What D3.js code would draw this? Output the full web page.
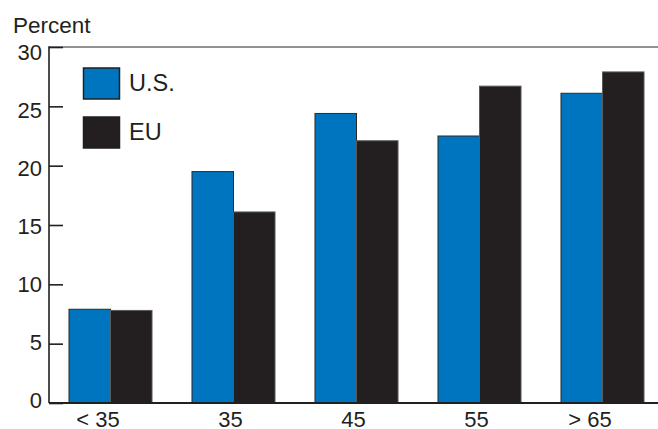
<!DOCTYPE html>
<html><head><meta charset="utf-8">
<script src="https://cdn.jsdelivr.net/npm/d3@7"></script>
<style>body{margin:0;background:#fff}svg{display:block}text{font-family:"Liberation Sans",Arial,Helvetica,sans-serif;fill:#231f20}</style>
</head><body><svg id="c" width="658" height="429"></svg>
<script>
const categories = ["< 35", "35", "45", "55", "> 65"];
const seriesNames = ["U.S.", "EU"];
const usValues = [7.9, 19.5, 24.4, 22.5, 26.1];
const euValues = [7.8, 16.1, 22.1, 26.7, 27.9];
const yTicks = [0, 5, 10, 15, 20, 25, 30];
const colors = ["#0075bf", "#231f20"];

const svg = d3.select("#c");
const mLeft = 49, mRight = 658, mTop = 47, mBottom = 403;

const x = d3.scaleBand().domain(categories).range([mLeft, 664]).paddingInner(0.325).paddingOuter(0.1625);
const xs = d3.scaleBand().domain(seriesNames).range([0, x.bandwidth()]);
const y = d3.scaleLinear().domain([0, 30]).range([mBottom, mTop]);
const yLab = d3.scaleLinear().domain([0, 30]).range([400.5, 52.5]);

// top line
svg.append("line").attr("x1", mLeft).attr("x2", mRight).attr("y1", y(30)).attr("y2", y(30))
  .attr("stroke", "#6d6e71").attr("stroke-width", 1.6);

// bars
const rows = categories.map((c, i) => ({c, vals: [usValues[i], euValues[i]]}));
const g = svg.append("g");
rows.forEach(r => {
  r.vals.forEach((v, j) => {
    g.append("rect")
      .attr("x", x(r.c) + xs(seriesNames[j]))
      .attr("y", y(v))
      .attr("width", xs.bandwidth())
      .attr("height", y(0) - y(v))
      .attr("fill", colors[j])
      .attr("stroke", j === 0 ? "#2b2b2b" : "#5a5a5a")
      .attr("stroke-width", 1);
  });
});

// y axis ticks (inward)
const yAxis = d3.axisRight(y).tickValues(yTicks).tickSize(14).tickFormat("");
const ya = svg.append("g").attr("transform", `translate(${mLeft},0)`).call(yAxis);
ya.select(".domain").remove();
ya.selectAll(".tick line").attr("stroke", "#231f20").attr("stroke-width", 1.6);
svg.append("line").attr("x1", mLeft).attr("x2", mLeft).attr("y1", y(30) - 0.8).attr("y2", y(0))
  .attr("stroke", "#231f20").attr("stroke-width", 1.6);

// y labels
svg.append("g").selectAll("text").data(yTicks).join("text")
  .attr("x", 42).attr("y", d => yLab(d)).attr("dy", "0.36em")
  .attr("text-anchor", "end").attr("font-size", 22).text(d => d);

// x axis line
svg.append("line").attr("x1", mLeft).attr("x2", mRight).attr("y1", y(0)).attr("y2", y(0))
  .attr("stroke", "#231f20").attr("stroke-width", 1.8);

// x labels: numeric part centered under group
const xl = svg.append("g").selectAll("text").data(categories).join("text")
  .attr("x", d => x(d) + x.bandwidth() / 2 - 3).attr("y", 426.5)
  .attr("text-anchor", "middle").attr("font-size", 22).text(d => d);
xl.each(function(d) {
  const full = this.getComputedTextLength();
  const num = d.replace(/^[<>]\s*/, "");
  const tmp = svg.append("text").attr("font-size", 22).text(num);
  const nw = tmp.node().getComputedTextLength();
  tmp.remove();
  d3.select(this).attr("dx", -(full - nw) / 2);
});

// Percent
svg.append("text").attr("x", 13).attr("y", 33).attr("font-size", 22.5).text("Percent");

// legend
const leg = svg.append("g");
seriesNames.forEach((s, i) => {
  const yy = 68 + i * 49;
  leg.append("rect").attr("x", 83.5).attr("y", yy).attr("width", 36).attr("height", 31)
    .attr("fill", colors[i]).attr("stroke", "#231f20").attr("stroke-width", 1.5);
  leg.append("text").attr("x", 129).attr("y", yy + 23).attr("font-size", 23.5).text(s);
});
</script></body></html>
